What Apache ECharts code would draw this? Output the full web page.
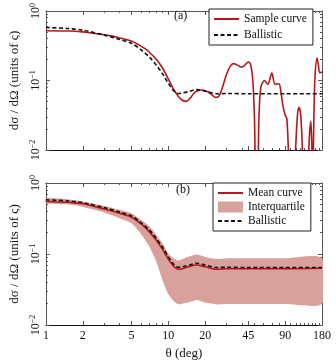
<!DOCTYPE html>
<html><head><meta charset="utf-8">
<script src="https://cdn.jsdelivr.net/npm/echarts@6/dist/echarts.min.js"></script>
<style>html,body{margin:0;padding:0;background:#fff}#c{width:336px;height:361px}</style>
</head><body><div id="c"></div>
<script>
// ---- Panel (a): sample curve ----
const thetaA = [1,1.5,2,2.5,3,3.5,4,4.5,5,5.5,6,6.5,7,8,9,10,11,12,13,14,15,16,17,19,21,23,24.5,26,28,30,32,34,37,39.5,42,45,47,49,50.5,52,53.5,55,57,61,65,70,74.5,80,83,86,90,93,96,98,106,110,114,117,121,125,127,138,141,146,149,151,153,155,158,164,168,172,176,180];
const sampleCurve = [0.52,0.515,0.50,0.475,0.455,0.435,0.41,0.39,0.37,0.34,0.31,0.285,0.255,0.20,0.15,0.105,0.076,0.060,0.052,0.050,0.055,0.064,0.070,0.073,0.069,0.061,0.057,0.060,0.085,0.125,0.16,0.175,0.165,0.155,0.165,0.185,0.17,0.10,0.03,0.004,0.004,0.03,0.08,0.10,0.088,0.128,0.088,0.09,0.07,0.045,0.032,0.028,0.008,0.002,0.002,0.012,0.035,0.041,0.03,0.008,0.002,0.002,0.012,0.026,0.01,0.002,0.002,0.04,0.12,0.21,0.17,0.13,0.13,0.135];

// ---- Panel (b) + ballistic ----
const thetaB = [1,1.5,2,3,4,5,6,7,8,9,10,11,12,13,15,17,20,25,30,45,90,180];
const ballistic = [0.58,0.56,0.53,0.45,0.39,0.343,0.275,0.217,0.165,0.124,0.091,0.072,0.065,0.066,0.07,0.074,0.07,0.0645,0.065,0.0645,0.0645,0.0645];
const meanCurve = [0.55,0.535,0.51,0.43,0.375,0.33,0.265,0.205,0.155,0.115,0.085,0.068,0.061,0.062,0.067,0.07,0.066,0.061,0.062,0.062,0.062,0.063];
const upperQ = [0.61,0.59,0.55,0.476,0.42,0.374,0.30,0.245,0.184,0.14,0.102,0.088,0.081,0.085,0.093,0.098,0.091,0.085,0.087,0.087,0.087,0.087];
const lowerQ = [0.52,0.50,0.46,0.385,0.32,0.27,0.19,0.126,0.077,0.042,0.027,0.022,0.0196,0.02,0.021,0.0225,0.0207,0.0195,0.0197,0.0197,0.0197,0.02];

// ---- ticks ----
const xTickLabels = [1,2,5,10,20,45,90,180];
const xMinorTicks = [3,4,6,7,8,9,30,40,50,60,70,80,100,110,120,130,140,150,160,170];
const yMajorTicks = [0.01,0.1,1];
const yMinorTicks = [0.02,0.03,0.04,0.05,0.06,0.07,0.08,0.09,0.2,0.3,0.4,0.5,0.6,0.7,0.8,0.9];

const FONT = 'Liberation Serif';
const RED = '#b3181a';
const BAND = '#d9a19c';
const FRAME = '#555';

const pair = (xs, ys) => xs.map((x, i) => [x, ys[i]]);

function xAxes(grid, showLabels) {
  const base = {gridIndex: grid, type: 'log', logBase: 10, min: 1, max: 180, splitLine: {show: false}};
  return [
    Object.assign({}, base, {position: 'bottom',
      axisLine: {show: true, lineStyle: {color: '#111', width: 1}},
      axisTick: {show: true, inside: true, length: 4, customValues: xTickLabels, lineStyle: {color: FRAME}},
      axisLabel: {show: showLabels, customValues: xTickLabels, margin: 5, color: '#111', fontFamily: FONT, fontSize: 12, formatter: v => String(Math.round(v))},
      name: showLabels ? 'θ (deg)' : '', nameLocation: 'middle', nameGap: 22,
      nameTextStyle: {fontFamily: FONT, fontSize: 13, color: '#111'}}),
    Object.assign({}, base, {position: 'bottom', axisLine: {show: false},
      axisTick: {show: true, inside: true, length: 2, customValues: xMinorTicks, lineStyle: {color: FRAME}},
      axisLabel: {show: false}}),
    Object.assign({}, base, {position: 'top',
      axisLine: {show: true, lineStyle: {color: FRAME}},
      axisTick: {show: true, inside: true, length: 4, customValues: xTickLabels, lineStyle: {color: FRAME}},
      axisLabel: {show: false}}),
    Object.assign({}, base, {position: 'top', axisLine: {show: false},
      axisTick: {show: true, inside: true, length: 2, customValues: xMinorTicks, lineStyle: {color: FRAME}},
      axisLabel: {show: false}})
  ];
}
function yAxes(grid) {
  const base = {gridIndex: grid, type: 'log', logBase: 10, min: 0.01, max: 1, splitLine: {show: false}};
  return [
    Object.assign({}, base, {position: 'left',
      axisLine: {show: true, lineStyle: {color: FRAME}},
      axisTick: {show: true, inside: true, length: 4, customValues: yMajorTicks, lineStyle: {color: FRAME}},
      axisLabel: {show: true, customValues: yMajorTicks, rotate: 90, margin: 3, color: '#111',
        formatter: v => { const e = Math.round(Math.log10(v)); return '{b|10}{s|' + (e < 0 ? '−' + (-e) : e) + '}'; },
        rich: {b: {fontFamily: FONT, fontSize: 12, color: '#111'}, s: {fontFamily: FONT, fontSize: 8, color: '#111', verticalAlign: 'top', padding: [0,0,6,0]}}},
      name: 'dσ / dΩ (units of ς)', nameLocation: 'middle', nameGap: 21, nameRotate: 90,
      nameTextStyle: {fontFamily: FONT, fontSize: 13, color: '#111'}}),
    Object.assign({}, base, {position: 'left', axisLine: {show: false},
      axisTick: {show: true, inside: true, length: 2, customValues: yMinorTicks, lineStyle: {color: FRAME}},
      axisLabel: {show: false}}),
    Object.assign({}, base, {position: 'right',
      axisLine: {show: true, lineStyle: {color: FRAME}},
      axisTick: {show: true, inside: true, length: 4, customValues: yMajorTicks, lineStyle: {color: FRAME}},
      axisLabel: {show: false}}),
    Object.assign({}, base, {position: 'right', axisLine: {show: false},
      axisTick: {show: true, inside: true, length: 2, customValues: yMinorTicks, lineStyle: {color: FRAME}},
      axisLabel: {show: false}})
  ];
}

const legendBase = {orient: 'vertical', padding: [4, 6, 4, 4], itemGap: 3, itemWidth: 25, itemHeight: 11,
  borderColor: '#222', borderWidth: 1, backgroundColor: '#fff',
  textStyle: {fontFamily: FONT, fontSize: 11.5, color: '#111'}};
const hideSym = {opacity: 0};

const option = {
  animation: false,
  backgroundColor: '#fff',
  grid: [
    {left: 39, right: 14, top: 5, height: 145},
    {left: 39, right: 14, top: 183, height: 142}
  ],
  title: [
    {text: '(a)', left: 174, top: 10, padding: 0, textStyle: {fontFamily: FONT, fontSize: 12, fontWeight: 'normal', color: '#111'}},
    {text: '(b)', left: 176, top: 184, padding: 0, textStyle: {fontFamily: FONT, fontSize: 12, fontWeight: 'normal', color: '#111'}}
  ],
  legend: [
    Object.assign({}, legendBase, {left: 209, top: 9, itemGap: 4,
      data: [{name: 'Sample curve', itemStyle: hideSym}, {name: 'Ballistic', itemStyle: hideSym}]}),
    Object.assign({}, legendBase, {left: 213, top: 183, itemGap: 2,
      data: [{name: 'Mean curve', itemStyle: hideSym}, {name: 'Interquartile', icon: 'rect', itemStyle: {color: BAND, opacity: 1}}, {name: 'Ballistic', itemStyle: hideSym}]})
  ],
  xAxis: xAxes(0, false).concat(xAxes(1, true)),
  yAxis: yAxes(0).concat(yAxes(1)),
  series: [
    {name: 'Sample curve', type: 'line', xAxisIndex: 0, yAxisIndex: 0, data: pair(thetaA, sampleCurve),
      symbol: 'none', smooth: 0.3, lineStyle: {color: RED, width: 1.6}, itemStyle: {color: RED}, z: 3},
    {name: 'Ballistic', type: 'line', xAxisIndex: 0, yAxisIndex: 0, data: pair(thetaB, ballistic),
      symbol: 'none', smooth: 0.3, lineStyle: {color: '#111', width: 1.6, type: [4, 2.5]}, itemStyle: {color: '#111'}, z: 4},
    {name: 'Interquartile', type: 'custom', xAxisIndex: 4, yAxisIndex: 4, clip: true,
      data: thetaB.map((t, i) => [t, lowerQ[i], upperQ[i]]),
      encode: {x: 0, y: [1, 2]},
      itemStyle: {color: BAND},
      renderItem: (params, api) => {
        if (params.dataIndex !== 0) return null;
        const top = thetaB.map((t, i) => api.coord([t, upperQ[i]]));
        const bot = thetaB.map((t, i) => api.coord([t, lowerQ[i]])).reverse();
        return {type: 'polygon', shape: {points: top.concat(bot), smooth: 0.25}, style: {fill: BAND}};
      }, z: 1},
    {name: 'Mean curve', type: 'line', xAxisIndex: 4, yAxisIndex: 4, data: pair(thetaB, meanCurve),
      symbol: 'none', smooth: 0.3, lineStyle: {color: RED, width: 1.6}, itemStyle: {color: RED}, z: 3},
    {name: 'Ballistic', type: 'line', xAxisIndex: 4, yAxisIndex: 4, data: pair(thetaB, ballistic),
      symbol: 'none', smooth: 0.3, lineStyle: {color: '#111', width: 1.6, type: [4, 2.5]}, itemStyle: {color: '#111'}, z: 4}
  ]
};
const chart = echarts.init(document.getElementById('c'), null, {renderer: 'canvas'});
chart.setOption(option);
</script>
</body></html>
